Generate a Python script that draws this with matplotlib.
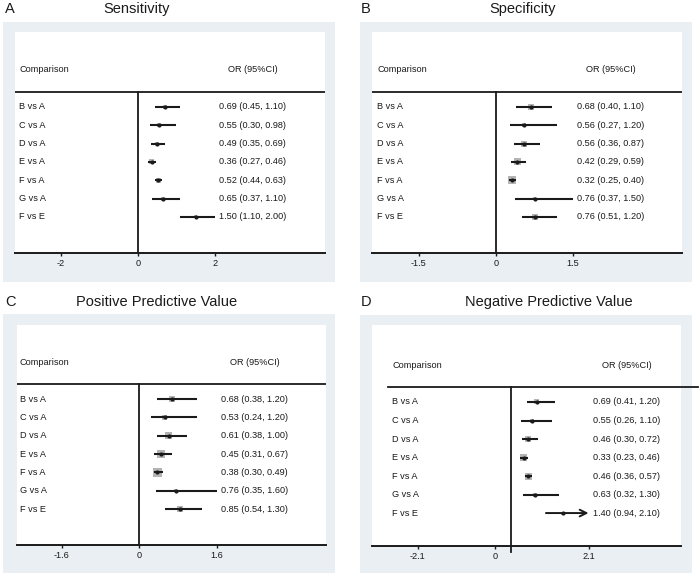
import matplotlib
matplotlib.use("Agg")
import matplotlib.pyplot as plt
from matplotlib.patches import Rectangle
from matplotlib.transforms import offset_copy

plt.rcParams['font.family'] = ['Liberation Sans', 'DejaVu Sans']

# data
labels = ['B vs A', 'C vs A', 'D vs A', 'E vs A', 'F vs A', 'G vs A', 'F vs E']

sens_or = [0.69, 0.55, 0.49, 0.36, 0.52, 0.65, 1.50]
sens_lo = [0.45, 0.30, 0.35, 0.27, 0.44, 0.37, 1.10]
sens_hi = [1.10, 0.98, 0.69, 0.46, 0.63, 1.10, 2.00]
sens_wt = [3, 3, 3, 4, 4, 3, 2]

spec_or = [0.68, 0.56, 0.56, 0.42, 0.32, 0.76, 0.76]
spec_lo = [0.40, 0.27, 0.36, 0.29, 0.25, 0.37, 0.51]
spec_hi = [1.10, 1.20, 0.87, 0.59, 0.40, 1.50, 1.20]
spec_wt = [5, 3, 5, 6, 7, 2, 5]

ppv_or = [0.68, 0.53, 0.61, 0.45, 0.38, 0.76, 0.85]
ppv_lo = [0.38, 0.24, 0.38, 0.31, 0.30, 0.35, 0.54]
ppv_hi = [1.20, 1.20, 1.00, 0.67, 0.49, 1.60, 1.30]
ppv_wt = [5, 4, 6, 7, 8, 2, 5]

npv_or = [0.69, 0.55, 0.46, 0.33, 0.46, 0.63, 1.40]
npv_lo = [0.41, 0.26, 0.30, 0.23, 0.36, 0.32, 0.94]
npv_hi = [1.20, 1.10, 0.72, 0.46, 0.57, 1.30, 2.10]
npv_wt = [4, 3, 5, 6, 6, 3, 2]

W, H = 700, 577
bg = '#e9eff2'
ink = '#1a1a1a'
fs = 6.6

fig = plt.figure(figsize=(W / 100, H / 100), dpi=100)
fig.patch.set_facecolor('white')


def fx(px):
    return px / W


def fy(py):
    return 1 - py / H


panels = [
    dict(letter='A', title='Sensitivity', o=sens_or, lo=sens_lo, hi=sens_hi, wt=sens_wt,
         bgbox=(3, 22, 335, 282), box=(15, 32, 325, 253), xlim=(-3.195, 4.857),
         ylim=(8.97, -3.09), head=0.18, comp=-1.02, lab_off=4,
         ticks=[-2, 0, 2], ticklabels=['-2', '0', '2'],
         letter_x=10, title_x=137, title_y=9),
    dict(letter='B', title='Specificity', o=spec_or, lo=spec_lo, hi=spec_hi, wt=spec_wt,
         bgbox=(360, 22, 692, 282), box=(372, 32, 682, 253), xlim=(-2.41, 3.63),
         ylim=(8.97, -3.09), head=0.18, comp=-1.02, lab_off=5,
         ticks=[-1.5, 0, 1.5], ticklabels=['-1.5', '0', '1.5'],
         letter_x=366, title_x=523, title_y=9),
    dict(letter='C', title='Positive Predictive Value', o=ppv_or, lo=ppv_lo, hi=ppv_hi, wt=ppv_wt,
         bgbox=(3, 314, 335, 573), box=(17, 325, 326, 545), xlim=(-2.52, 3.86),
         ylim=(8.96, -3.04), head=0.18, comp=-1.02, lab_off=3,
         ticks=[-1.6, 0, 1.6], ticklabels=['-1.6', '0', '1.6'],
         letter_x=11, title_x=157, title_y=302),
    dict(letter='D', title='Negative Predictive Value', o=npv_or, lo=npv_lo, hi=npv_hi, wt=npv_wt,
         bgbox=(360, 315, 692, 573), box=(372, 325, 681, 546), xlim=(-3.80, 4.62),
         ylim=(8.78, -3.16), head=0.19, comp=-0.95, lab_off=20,
         # tick labels of this panel are drawn off their values in the original
         ticks=[-2.55, -0.45, 2.1], ticklabels=['-2.1', '0', '2.1'],
         letter_x=366, title_x=549, title_y=302),
]

for p in panels:
    x0, y0, x1, y1 = p['bgbox']
    fig.patches.append(Rectangle((fx(x0), fy(y1)), fx(x1 - x0), (y1 - y0) / H,
                                 transform=fig.transFigure, facecolor=bg,
                                 edgecolor='none', zorder=-5))
    fig.text(fx(p['letter_x']), fy(p['title_y']), p['letter'], fontsize=10.5,
             ha='center', va='center', color=ink)
    fig.text(fx(p['title_x']), fy(p['title_y']), p['title'], fontsize=10.5,
             ha='center', va='center', color=ink)

    bx0, by0, bx1, by1 = p['box']
    ax = fig.add_axes([fx(bx0), fy(by1), fx(bx1 - bx0), (by1 - by0) / H])
    ax.set_zorder(2)
    ax.set_facecolor('white')
    ax.set_xlim(*p['xlim'])
    ax.set_ylim(*p['ylim'])
    for s in ['top', 'left', 'right']:
        ax.spines[s].set_visible(False)
    ax.spines['bottom'].set_linewidth(1.4)
    ax.spines['bottom'].set_color(ink)
    ax.set_yticks([])
    ax.set_xticks(p['ticks'])
    ax.set_xticklabels(p['ticklabels'])
    ax.tick_params(axis='x', length=2.5, width=1, pad=1.5, labelsize=fs,
                   colors=ink)

    rows = list(range(1, len(labels) + 1))

    # header
    if p['letter'] == 'D':
        ax.plot([-3.37, 5.08], [p['head'], p['head']], color=ink, lw=1.3,
                clip_on=False)
        ax.plot([0, 0], [p['head'], p['ylim'][0] + 0.35], color=ink, lw=1.3,
                clip_on=False)
    else:
        ax.axhline(p['head'], color=ink, lw=1.3)
        ax.plot([0, 0], [p['head'], p['ylim'][0]], color=ink, lw=1.3)

    lab_tr = offset_copy(ax.get_yaxis_transform(), fig=fig,
                         x=p['lab_off'] * 0.72, y=0, units='points')
    ax.text(0, p['comp'], 'Comparison', transform=lab_tr, fontsize=fs,
            va='center', ha='left', color=ink)

    txt_x = max(p['hi'])
    txt_tr = offset_copy(ax.transData, fig=fig, x=3, y=0, units='points')
    hdr_tr = offset_copy(ax.transData, fig=fig, x=3 + 24.5, y=0, units='points')
    ax.text(txt_x, p['comp'], 'OR (95%CI)', transform=hdr_tr, fontsize=fs,
            va='center', ha='center', color=ink)

    for r, lab, o, lo, hi, wt in zip(rows, labels, p['o'], p['lo'], p['hi'], p['wt']):
        ax.text(0, r, lab, transform=lab_tr, fontsize=fs, va='center',
                ha='left', color=ink)
        ax.scatter([o], [r], marker='s', s=((wt + 1) / 1.389) ** 2,
                   color='#b4b4b4', edgecolors='none', zorder=2)
        if p['letter'] == 'D' and lab == 'F vs E':
            ax.annotate('', xy=(hi, r), xytext=(lo, r),
                        arrowprops=dict(arrowstyle='->', lw=1.4, color=ink,
                                        shrinkA=0, shrinkB=0,
                                        mutation_scale=12))
        else:
            ax.plot([lo, hi], [r, r], color=ink, lw=1.5, zorder=3,
                    solid_capstyle='butt')
        ax.plot([o], [r], marker='o', ms=2.0, color=ink, zorder=4)
        ax.text(txt_x, r, f'{o:.2f} ({lo:.2f}, {hi:.2f})', transform=txt_tr,
                fontsize=fs, va='center', ha='left', color=ink)

fig.savefig('out.png', dpi=100)
